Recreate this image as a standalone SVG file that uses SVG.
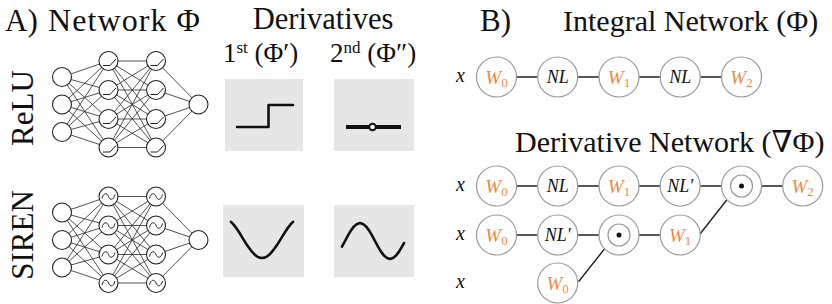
<svg xmlns="http://www.w3.org/2000/svg" xmlns:xlink="http://www.w3.org/1999/xlink" width="832" height="304" viewBox="0 0 832 304">
<style>
.t{font-family:"Liberation Serif","DejaVu Serif",serif;fill:#111}
.nn{fill:#fff;stroke:#222;stroke-width:1.1}
.fc{fill:none;stroke:#333;stroke-width:0.85}
.ico{fill:none;stroke:#222;stroke-width:1}
.box{fill:#e6e6e6}
.crv{fill:none;stroke:#111;stroke-width:2.6;stroke-linejoin:round;stroke-linecap:round}
.cn{fill:#fff;stroke:#999;stroke-width:1.2}
.ed{stroke:#222;stroke-width:1.4;fill:none}
.w{font-family:"Liberation Serif","DejaVu Serif",serif;font-size:19px;fill:#ee8a44;text-anchor:middle}
.w tspan.s{font-style:normal;font-size:13px}
.nlt{font-family:"Liberation Serif","DejaVu Serif",serif;font-style:italic;font-size:18px;fill:#111;text-anchor:middle}
.xl{font-family:"Liberation Serif","DejaVu Serif",serif;font-style:italic;font-size:20px;fill:#111}
</style>
<defs>
<path id="fcpath" class="fc" d="M62 77L108.5 61M62 77L108.5 90M62 77L108.5 119M62 77L108.5 147.5M62 104.5L108.5 61M62 104.5L108.5 90M62 104.5L108.5 119M62 104.5L108.5 147.5M62 132L108.5 61M62 132L108.5 90M62 132L108.5 119M62 132L108.5 147.5M108.5 61L156 61M108.5 61L156 90M108.5 61L156 119M108.5 61L156 147.5M108.5 90L156 61M108.5 90L156 90M108.5 90L156 119M108.5 90L156 147.5M108.5 119L156 61M108.5 119L156 90M108.5 119L156 119M108.5 119L156 147.5M108.5 147.5L156 61M108.5 147.5L156 90M108.5 147.5L156 119M108.5 147.5L156 147.5M156 61L198.5 104.5M156 90L198.5 104.5M156 119L198.5 104.5M156 147.5L198.5 104.5"/>
<g id="netnodes">
<circle class="nn" cx="62" cy="77" r="9.5"/><circle class="nn" cx="62" cy="104.5" r="9.5"/><circle class="nn" cx="62" cy="132" r="9.5"/>
<circle class="nn" cx="108.5" cy="61" r="9.5"/><circle class="nn" cx="108.5" cy="90" r="9.5"/><circle class="nn" cx="108.5" cy="119" r="9.5"/><circle class="nn" cx="108.5" cy="147.5" r="9.5"/>
<circle class="nn" cx="156" cy="61" r="9.5"/><circle class="nn" cx="156" cy="90" r="9.5"/><circle class="nn" cx="156" cy="119" r="9.5"/><circle class="nn" cx="156" cy="147.5" r="9.5"/>
<circle class="nn" cx="198.5" cy="104.5" r="9.5"/>
</g>
<path id="relu" class="ico" d="M-5.5 4.5H1.5L7.5 -2"/>
<path id="sine" class="ico" d="M-6.5 2C-5 -4 -1.5 -4 0 0S5 4 6.5 -2"/>
<g id="dot"><circle class="cn" r="20"/><circle class="cn" r="11"/><circle r="2.5" fill="#111"/></g>
</defs>

<!-- Panel A -->
<text class="t" x="5" y="31" font-size="31">A)</text>
<text class="t" x="48" y="31" font-size="32" textLength="152">Network Φ</text>
<text class="t" x="323" y="29" font-size="30.5" text-anchor="middle">Derivatives</text>
<text class="t" x="223" y="62" font-size="27">1<tspan font-size="17" dy="-9">st</tspan><tspan dy="9"> (Φ′)</tspan></text>
<text class="t" x="330" y="62" font-size="27">2<tspan font-size="17" dy="-9">nd</tspan><tspan dy="9"> (Φ″)</tspan></text>
<text class="t" font-size="31" text-anchor="middle" transform="translate(33,108) rotate(-90)">ReLU</text>
<text class="t" font-size="31" text-anchor="middle" transform="translate(33,235) rotate(-90)">SIREN</text>

<g id="net-relu">
<use xlink:href="#fcpath"/>
<use xlink:href="#netnodes"/>
<use xlink:href="#relu" x="108.5" y="61"/><use xlink:href="#relu" x="108.5" y="90"/><use xlink:href="#relu" x="108.5" y="119"/><use xlink:href="#relu" x="108.5" y="147.5"/>
<use xlink:href="#relu" x="156" y="61"/><use xlink:href="#relu" x="156" y="90"/><use xlink:href="#relu" x="156" y="119"/><use xlink:href="#relu" x="156" y="147.5"/>
</g>
<g id="net-siren" transform="translate(0,135.5)">
<use xlink:href="#fcpath"/>
<use xlink:href="#netnodes"/>
<use xlink:href="#sine" x="108.5" y="61"/><use xlink:href="#sine" x="108.5" y="90"/><use xlink:href="#sine" x="108.5" y="119"/><use xlink:href="#sine" x="108.5" y="147.5"/>
<use xlink:href="#sine" x="156" y="61"/><use xlink:href="#sine" x="156" y="90"/><use xlink:href="#sine" x="156" y="119"/><use xlink:href="#sine" x="156" y="147.5"/>
</g>

<g id="relu-d1"><rect class="box" x="225" y="79" width="78" height="72"/><path class="crv" d="M237 127H268.5V105H293" stroke-width="4" stroke-linecap="butt" stroke-linejoin="miter"/></g>
<g id="relu-d2"><rect class="box" x="334" y="79" width="80" height="72"/><path d="M346 127H401" stroke="#111" stroke-width="4"/><circle cx="372.5" cy="127" r="3.3" fill="#fff" stroke="#111" stroke-width="2"/></g>
<g id="siren-d1"><rect class="box" x="223" y="205" width="81" height="72"/><polyline class="crv" points="231,221.8 233.6,224.6 236.2,228 238.8,231.8 241.3,235.9 243.9,240.1 246.5,244.2 249.1,248 251.7,251.4 254.3,254.2 256.8,256.3 259.4,257.6 262,258 264.6,257.6 267.2,256.3 269.8,254.2 272.3,251.4 274.9,248 277.5,244.2 280.1,240.1 282.7,235.9 285.3,231.8 287.8,228 290.4,224.6 293,221.8"/></g>
<g id="siren-d2"><rect class="box" x="334" y="205" width="80" height="72"/><polyline class="crv" points="342,246.6 345,241 348,235.4 351,230.4 354,226.4 357,223.9 360,223 363,223.9 366,226.4 369,230.4 372,235.4 375,241 378,246.6 381,251.6 384,255.6 387,258.1 390,259 393,258.1 396,255.6 399,251.6 402,246.6 404,243"/></g>

<!-- Panel B -->
<text class="t" x="480" y="31" font-size="31">B)</text>
<text class="t" x="563" y="31" font-size="30">Integral Network (Φ)</text>
<text class="t" x="515" y="152" font-size="30">Derivative Network (∇Φ)</text>

<g id="edges">
<path class="ed" d="M516.5 77H537.7M577.7 77H599M639 77H660.2M700.2 77H721.5"/>
<path class="ed" d="M516.5 186H537.7M577.7 186H599M639 186H660.2M700.2 186H721.5M761.5 186H782.7"/>
<path class="ed" d="M516.5 235H537.7M577.7 235H599M639 235H660.2"/>
<path class="ed" d="M700 234L726.7 200M578.5 281.7L605 248.3"/>
</g>

<text class="xl" x="456" y="82">x</text>
<text class="xl" x="456" y="191">x</text>
<text class="xl" x="456" y="240">x</text>
<text class="xl" x="456" y="288">x</text>

<g id="i-w0"><circle class="cn" cx="496.5" cy="77" r="20"/><text class="w" x="496.5" y="83.5"><tspan font-style="italic">W</tspan><tspan class="s" dy="3">0</tspan></text></g>
<g id="i-nl1"><circle class="cn" cx="557.7" cy="77" r="20"/><text class="nlt" x="557.7" y="83">NL</text></g>
<g id="i-w1"><circle class="cn" cx="619" cy="77" r="20"/><text class="w" x="619" y="83.5"><tspan font-style="italic">W</tspan><tspan class="s" dy="3">1</tspan></text></g>
<g id="i-nl2"><circle class="cn" cx="680.2" cy="77" r="20"/><text class="nlt" x="680.2" y="83">NL</text></g>
<g id="i-w2"><circle class="cn" cx="741.5" cy="77" r="20"/><text class="w" x="741.5" y="83.5"><tspan font-style="italic">W</tspan><tspan class="s" dy="3">2</tspan></text></g>

<g id="d1-w0"><circle class="cn" cx="496.5" cy="186" r="20"/><text class="w" x="496.5" y="192.5"><tspan font-style="italic">W</tspan><tspan class="s" dy="3">0</tspan></text></g>
<g id="d1-nl"><circle class="cn" cx="557.7" cy="186" r="20"/><text class="nlt" x="557.7" y="192">NL</text></g>
<g id="d1-w1"><circle class="cn" cx="619" cy="186" r="20"/><text class="w" x="619" y="192.5"><tspan font-style="italic">W</tspan><tspan class="s" dy="3">1</tspan></text></g>
<g id="d1-nlp"><circle class="cn" cx="680.2" cy="186" r="20"/><text class="nlt" x="680.2" y="192">NL'</text></g>
<g id="d1-dot"><use xlink:href="#dot" x="741.5" y="186"/></g>
<g id="d1-w2"><circle class="cn" cx="802.7" cy="186" r="20"/><text class="w" x="802.7" y="192.5"><tspan font-style="italic">W</tspan><tspan class="s" dy="3">2</tspan></text></g>

<g id="d2-w0"><circle class="cn" cx="496.5" cy="235" r="20"/><text class="w" x="496.5" y="241.5"><tspan font-style="italic">W</tspan><tspan class="s" dy="3">0</tspan></text></g>
<g id="d2-nlp"><circle class="cn" cx="557.7" cy="235" r="20"/><text class="nlt" x="557.7" y="241">NL'</text></g>
<g id="d2-dot"><use xlink:href="#dot" x="619" y="235"/></g>
<g id="d2-w1"><circle class="cn" cx="680.2" cy="235" r="20"/><text class="w" x="680.2" y="241.5"><tspan font-style="italic">W</tspan><tspan class="s" dy="3">1</tspan></text></g>

<g id="d3-w0"><circle class="cn" cx="557.7" cy="283" r="20"/><text class="w" x="557.7" y="289.5"><tspan font-style="italic">W</tspan><tspan class="s" dy="3">0</tspan></text></g>
</svg>
